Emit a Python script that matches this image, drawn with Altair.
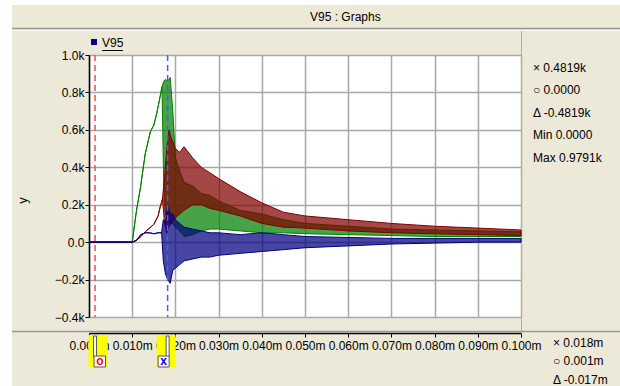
import altair as alt
import pandas as pd

# ---- data (time in ms, values in k) ----
g_t  = [0, 10, 11, 11.9, 13, 14.2, 15, 15.7, 16.4, 16.9, 17.3, 17.7, 18.2, 18.8, 19.4, 20, 21, 22, 24, 26, 28, 30, 35, 40, 45, 50, 60, 70, 80, 90, 100]
g_hi = [0, 0, 0.17, 0.29, 0.47, 0.59, 0.625, 0.69, 0.77, 0.83, 0.86, 0.87, 0.86, 0.88, 0.70, 0.45, 0.38, 0.32, 0.30, 0.26, 0.25, 0.22, 0.17, 0.15, 0.12, 0.10, 0.085, 0.07, 0.065, 0.06, 0.055]
g_lo = [0, 0, 0.17, 0.29, 0.47, 0.59, 0.625, 0.69, 0.77, 0.83, 0.30, 0.15, 0.12, 0.10, 0.10, 0.08, 0.06, 0.03, 0.04, 0.06, 0.07, 0.07, 0.06, 0.05, 0.05, 0.045, 0.04, 0.035, 0.03, 0.03, 0.03]

r_t  = [0, 10, 11, 12, 13, 14, 15, 16, 16.5, 17, 17.5, 18, 18.5, 19, 20, 21, 22, 24, 26, 28, 30, 35, 40, 45, 50, 60, 70, 80, 90, 100]
r_hi = [0, 0, 0.01, 0.03, 0.055, 0.075, 0.095, 0.14, 0.19, 0.23, 0.35, 0.50, 0.60, 0.56, 0.50, 0.48, 0.51, 0.45, 0.40, 0.37, 0.34, 0.27, 0.21, 0.16, 0.14, 0.12, 0.10, 0.085, 0.075, 0.065]
r_lo = [0, 0, 0.01, 0.03, 0.055, 0.075, 0.095, 0.14, 0.19, 0.23, 0.10, 0.05, 0.08, 0.10, 0.13, 0.15, 0.17, 0.20, 0.20, 0.18, 0.17, 0.14, 0.10, 0.08, 0.075, 0.06, 0.05, 0.045, 0.04, 0.035]

b_t  = [0, 10, 11, 12, 13, 14, 15, 16, 16.8, 17.2, 17.7, 18.2, 18.8, 19.4, 20, 21, 22, 24, 26, 28, 30, 35, 40, 45, 50, 60, 70, 80, 90, 100]
b_hi = [0, 0, 0.01, 0.04, 0.05, 0.05, 0.045, 0.05, 0.05, 0.12, 0.10, 0.20, 0.15, 0.15, 0.12, 0.10, 0.08, 0.07, 0.06, 0.05, 0.05, 0.04, 0.05, 0.04, 0.03, 0.025, 0.02, 0.02, 0.02, 0.02]
b_lo = [0, 0, 0.01, 0.04, 0.05, 0.05, 0.045, 0.05, 0.05, -0.10, -0.17, -0.20, -0.22, -0.15, -0.14, -0.12, -0.10, -0.09, -0.08, -0.08, -0.07, -0.06, -0.05, -0.04, -0.03, -0.02, -0.01, -0.005, 0.0, 0.0]

x_ticks = [0.0, 0.01, 0.02, 0.03, 0.04, 0.05, 0.06, 0.07, 0.08, 0.09, 0.10]
y_ticks = [-0.4, -0.2, 0.0, 0.2, 0.4, 0.6, 0.8, 1.0]
cursor_o = 0.0014
cursor_x = 0.0182
panel_lines = ["× 0.4819k", "○ 0.0000", "Δ -0.4819k", "Min 0.0000", "Max 0.9791k"]
time_lines = ["× 0.018m", "○ 0.001m", "Δ -0.017m"]

FONT = "Liberation Sans"
BG = "#ECE9D8"

def series(t, hi, lo):
    return pd.DataFrame({"t": [v / 1000 for v in t], "hi": hi, "lo": lo})

xs = alt.Scale(domain=[0, 0.1], nice=False, zero=False)
ys = alt.Scale(domain=[-0.4, 1.0], nice=False, zero=False)
x_axis = alt.Axis(values=x_ticks, labelExpr="format(datum.value, '.3f') + 'm'", offset=16,
                  labelFlush=False, labelOverlap=False, domainColor="black", domainWidth=1.5,
                  tickColor="black", tickSize=4, labelPadding=3, labelFont=FONT, labelFontSize=12,
                  labelColor="black", gridColor="#A9A9A9", gridWidth=1.5, title="")
y_axis = alt.Axis(values=y_ticks,
                  labelExpr="datum.value == 0 ? '0.0' : format(datum.value, '.1f') + 'k'",
                  domainColor="black", domainWidth=1.5, tickColor="black", tickSize=4,
                  labelPadding=1, labelFont=FONT, labelFontSize=12, labelColor="black",
                  gridColor="#A9A9A9", gridWidth=1.5, title="y", titleFont=FONT,
                  titleFontSize=13, titleFontWeight="normal", titleColor="black",
                  titleAngle=270, titleX=-67, titleY=145, titleAlign="center", titleBaseline="middle")
x_enc = alt.X("t:Q", scale=xs, axis=x_axis)
y_enc = alt.Y("hi:Q", scale=ys, axis=y_axis)

def band(df, color):
    return alt.Chart(df).mark_area(fill=color, fillOpacity=0.72, stroke=color, strokeWidth=1,
                                   strokeJoin="round").encode(x=x_enc, y=y_enc, y2="lo:Q")

dummy = pd.DataFrame({"a": [0]})

def rect(x1, x2, y1, y2, fill):
    return alt.Chart(dummy).mark_rect(fill=fill).encode(
        x=alt.value(x1), x2=alt.value(x2), y=alt.value(y1), y2=alt.value(y2))

def hline(x1, x2, y, color, w=1):
    return alt.Chart(dummy).mark_rule(color=color, strokeWidth=w).encode(
        x=alt.value(x1), x2=alt.value(x2), y=alt.value(y))

def vline(x, y1, y2, color, w=1):
    return alt.Chart(dummy).mark_rule(color=color, strokeWidth=w).encode(
        x=alt.value(x), y=alt.value(y1), y2=alt.value(y2))

def text(s, x, y, align="left", size=12, color="black"):
    return alt.Chart(dummy).mark_text(text=s, align=align, baseline="middle", font=FONT,
                                      fontSize=size, color=color).encode(
        x=alt.value(x), y=alt.value(y))

layers = []
# frame decorations (origin of plot area = (89,55))
layers += [
    rect(-89, -77, -55, 331, "white"),
    rect(-89, 531, -55, -50, "white"),
    hline(-77, 531, -26.5, "#9C9A8E", 1.5),
    hline(-77, 531, -24.5, "white", 1),
    hline(-77, 531, 276.5, "#9C9A8E", 1.5),
    vline(432.5, -24, 276, "#B0AE9F", 1),
    text("V95 : Graphs", 221, -38),
    rect(2, 8, -16, -10, "#000080"),
    text("V95", 13, -12.5),
    hline(13, 34, -4.5, "black", 1),
]
# signal bands
layers += [
    band(series(g_t, g_hi, g_lo), "#008000"),
    band(series(r_t, r_hi, r_lo), "#800000"),
    band(series(b_t, b_hi, b_lo), "#000080"),
]
# cursors
cur = pd.DataFrame({"t": [cursor_o]})
curx = pd.DataFrame({"t": [cursor_x]})
layers += [
    alt.Chart(cur).mark_rule(color="#FF4A4A", strokeDash=[6, 4], strokeWidth=1.5).encode(
        x=x_enc, y=alt.value(0), y2=alt.value(262)),
    alt.Chart(curx).mark_rule(color="#4A5CFF", strokeDash=[6, 4], strokeWidth=1.5).encode(
        x=x_enc, y=alt.value(0), y2=alt.value(262)),
    # cursor flags on the time axis
    alt.Chart(cur).mark_rect(fill="#FFFF00", xOffset=-6.5, x2Offset=12.5).encode(
        x=x_enc, x2="t", y=alt.value(280), y2=alt.value(312)),
    alt.Chart(curx).mark_rect(fill="#FFFF00", xOffset=-11, x2Offset=8).encode(
        x=x_enc, x2="t", y=alt.value(280), y2=alt.value(312)),
    alt.Chart(cur).mark_rect(fill="white", stroke="#555555", strokeWidth=1, xOffset=-1.5, x2Offset=1.5).encode(
        x=x_enc, x2="t", y=alt.value(281), y2=alt.value(302)),
    alt.Chart(curx).mark_rect(fill="white", stroke="#555555", strokeWidth=1, xOffset=-1.5, x2Offset=1.5).encode(
        x=x_enc, x2="t", y=alt.value(281), y2=alt.value(302)),
    alt.Chart(cur).mark_rect(fill="white", stroke="#555555", strokeWidth=1, xOffset=-1, x2Offset=10.5).encode(
        x=x_enc, x2="t", y=alt.value(301), y2=alt.value(312)),
    alt.Chart(curx).mark_rect(fill="white", stroke="#555555", strokeWidth=1, xOffset=-9.5, x2Offset=1.5).encode(
        x=x_enc, x2="t", y=alt.value(301), y2=alt.value(312)),
    alt.Chart(cur).mark_text(text="o", color="#FF0000", fontWeight="bold", fontSize=12, font=FONT,
                             align="center", baseline="middle", dx=4.8).encode(
        x=x_enc, y=alt.value(305.5)),
    alt.Chart(curx).mark_text(text="x", color="#0000FF", fontWeight="bold", fontSize=12, font=FONT,
                              align="center", baseline="middle", dx=-4).encode(
        x=x_enc, y=alt.value(305.5)),
]
# side panel texts
for i, s in enumerate(panel_lines):
    layers.append(text(s, 444, 12.5 + i * 22.6))
for i, s in enumerate(time_lines):
    layers.append(text(s, 464, 288 + i * 18.3))

chart = alt.layer(*layers).properties(
    width=432, height=262,
    autosize=alt.AutoSizeParams(type="none"),
    padding={"left": 89, "top": 55, "right": 99, "bottom": 69},
    background=BG,
).configure_view(fill="white", strokeWidth=0)

chart.save("out.html", embed_options={"renderer": "svg", "actions": False})
